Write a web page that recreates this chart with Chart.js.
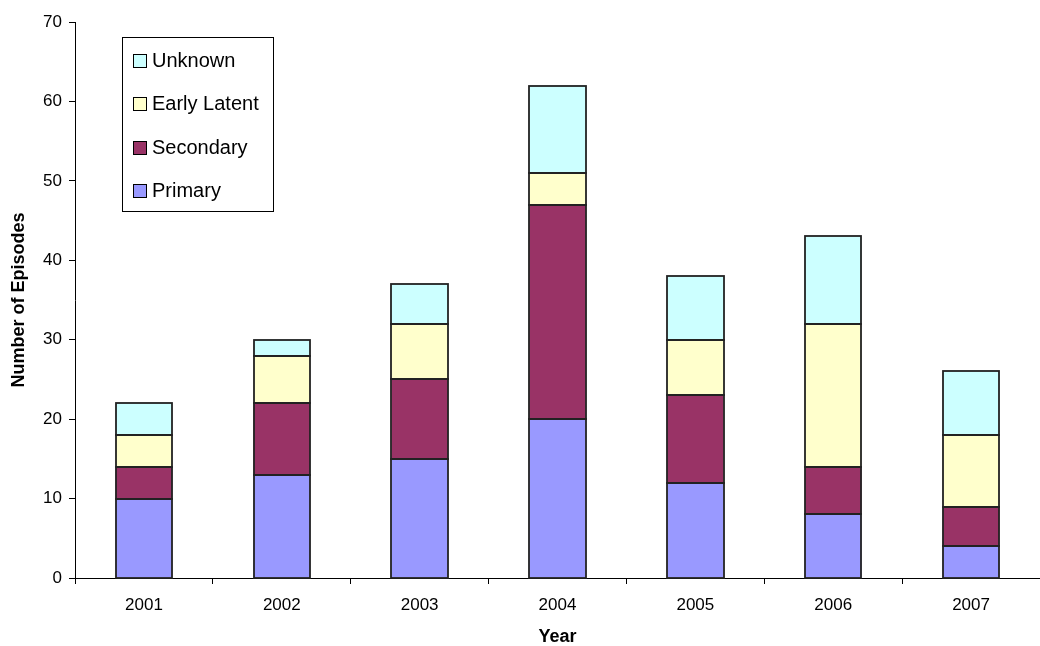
<!DOCTYPE html>
<html>
<head>
<meta charset="utf-8">
<title>Episodes by Year</title>
<script src="https://cdn.jsdelivr.net/npm/chart.js@4/dist/chart.umd.min.js"></script>
<style>
    html, body { margin: 0; padding: 0; background: #fff; }
    canvas { display: block; }
</style>
</head>
<body>
<canvas id="episodesChart" width="1040" height="646"></canvas>
<script>
    // Chart data
    const years = ['2001', '2002', '2003', '2004', '2005', '2006', '2007'];
    const primary = [10, 13, 15, 20, 12, 8, 4];
    const secondary = [4, 9, 10, 27, 11, 6, 5];
    const earlyLatent = [4, 6, 7, 4, 7, 18, 9];
    const unknown = [4, 2, 5, 11, 8, 11, 8];
    const yTicks = [0, 10, 20, 30, 40, 50, 60, 70];

    const FONT = "'Liberation Sans', Arial, sans-serif";

    /**
     * Outline every bar segment with a centred stroke, so shared edges
     * between stacked segments stay as thick as the outer ones
     */
    const barOutlines = {
        id: 'barOutlines',
        afterDatasetsDraw(chart) {
            const ctx = chart.ctx;
            ctx.save();
            ctx.strokeStyle = '#222';
            ctx.lineWidth = 1.8;
            chart.data.datasets.forEach((ds, i) => {
                const meta = chart.getDatasetMeta(i);
                meta.data.forEach(bar => {
                    const p = bar.getProps(['x', 'y', 'base', 'width'], true);
                    const left = Math.round(p.x - p.width / 2);
                    const right = Math.round(p.x + p.width / 2);
                    const top = Math.round(Math.min(p.y, p.base));
                    const bottom = Math.round(Math.max(p.y, p.base));
                    ctx.strokeRect(left, top, right - left, bottom - top);
                });
            });
            ctx.restore();
        }
    };

    /**
     * Legend drawn inside the plot, boxed, last series on top
     */
    const boxedLegend = {
        id: 'boxedLegend',
        afterDraw(chart) {
            const ctx = chart.ctx;
            const box = { x: 122.5, y: 37.5, w: 151, h: 174 };
            ctx.save();
            ctx.fillStyle = '#fff';
            ctx.fillRect(box.x, box.y, box.w, box.h);
            ctx.strokeStyle = '#000';
            ctx.lineWidth = 1;
            ctx.strokeRect(box.x, box.y, box.w, box.h);

            ctx.font = '20px ' + FONT;
            ctx.textBaseline = 'middle';
            ctx.textAlign = 'left';
            const sets = chart.data.datasets.slice().reverse();
            sets.forEach((ds, i) => {
                const cy = 60.5 + i * 43.4;
                const sy = Math.round(cy - 6.5) + 0.5;
                ctx.fillStyle = ds.backgroundColor;
                ctx.fillRect(133.5, sy, 13, 13);
                ctx.strokeStyle = '#000';
                ctx.strokeRect(133.5, sy, 13, 13);
                ctx.fillStyle = '#000';
                ctx.fillText(ds.label, 152, cy + 1);
            });
            ctx.restore();
        }
    };

    function makeSet(label, data, color) {
        return {
            label: label,
            data: data,
            backgroundColor: color,
            borderWidth: 0,
            barPercentage: 0.41,
            categoryPercentage: 1.0
        };
    }

    new Chart(document.getElementById('episodesChart'), {
        type: 'bar',
        data: {
            labels: years,
            datasets: [
                makeSet('Primary', primary, '#9999FF'),
                makeSet('Secondary', secondary, '#993366'),
                makeSet('Early Latent', earlyLatent, '#FFFFCC'),
                makeSet('Unknown', unknown, '#CCFFFF')
            ]
        },
        options: {
            responsive: false,
            animation: false,
            layout: { padding: { top: 22, right: 0, bottom: 0, left: 0 } },
            scales: {
                x: {
                    stacked: true,
                    grid: {
                        drawOnChartArea: false,
                        drawTicks: true,
                        tickLength: 6,
                        color: '#000',
                        offset: true
                    },
                    border: { color: '#000', width: 1 },
                    ticks: {
                        color: '#000',
                        padding: 11,
                        maxRotation: 0,
                        font: { family: FONT, size: 17 }
                    },
                    title: {
                        display: true,
                        text: 'Year',
                        color: '#000',
                        padding: { top: 0, bottom: 0 },
                        font: { family: FONT, size: 18, weight: 'bold', lineHeight: 1 }
                    },
                    afterFit: function(scale) { scale.height = 68; }
                },
                y: {
                    stacked: true,
                    min: 0,
                    max: 70,
                    afterBuildTicks: function(scale) {
                        scale.ticks = yTicks.map(v => ({ value: v }));
                    },
                    grid: {
                        drawOnChartArea: false,
                        drawTicks: true,
                        tickLength: 6,
                        color: '#000'
                    },
                    border: { color: '#000', width: 1 },
                    ticks: {
                        color: '#000',
                        padding: 7,
                        font: { family: FONT, size: 17 }
                    },
                    title: {
                        display: true,
                        text: 'Number of Episodes',
                        color: '#000',
                        padding: { top: 10, bottom: 0 },
                        font: { family: FONT, size: 18, weight: 'bold', lineHeight: 1 }
                    },
                    afterFit: function(scale) { scale.width = 75; }
                }
            },
            plugins: {
                legend: { display: false },
                tooltip: { enabled: false },
                title: { display: false }
            }
        },
        plugins: [barOutlines, boxedLegend]
    });
</script>
</body>
</html>
